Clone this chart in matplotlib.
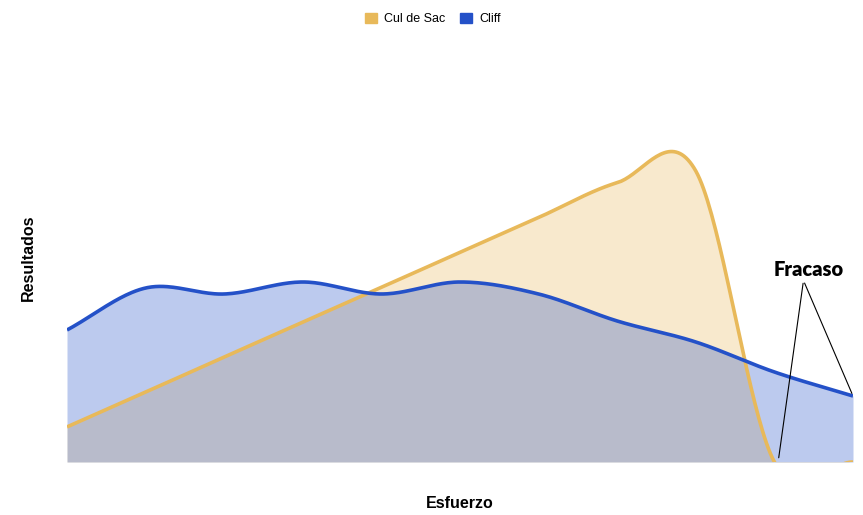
import matplotlib.pyplot as plt
from matplotlib.patches import Patch
import numpy as np

# datos (11 puntos, eje x sin etiquetas)
puntos = list(range(11))
cul_de_sac = [11.7, 23.3, 35.0, 46.6, 58.2, 69.9, 81.5, 93.1, 97, 0, 0]
cliff = [44, 58, 56, 60, 56, 60, 56, 47, 40, 30, 22]
series = ['Cul de Sac', 'Cliff']

c_naranja = '#e8b95a'
c_azul = '#2451c8'


def suave(x, y, n=40):
	# curva tipo catmull-rom entre los puntos (como curveType 'function')
	x = np.asarray(x, float)
	y = np.asarray(y, float)
	m = np.gradient(y, x, edge_order=1)
	m[1:-1] = (y[2:] - y[:-2]) / (x[2:] - x[:-2])
	xs, ys = [], []
	for i in range(len(x) - 1):
		t = np.linspace(0, 1, n, endpoint=False)
		h = x[i + 1] - x[i]
		h00 = 2*t**3 - 3*t**2 + 1
		h10 = t**3 - 2*t**2 + t
		h01 = -2*t**3 + 3*t**2
		h11 = t**3 - t**2
		xs.append(x[i] + t*h)
		ys.append(h00*y[i] + h10*h*m[i] + h01*y[i + 1] + h11*h*m[i + 1])
	xs.append([x[-1]])
	ys.append([y[-1]])
	return np.concatenate(xs), np.concatenate(ys)


plt.rcParams['font.family'] = ['Liberation Sans', 'DejaVu Sans']

fig = plt.figure(figsize=(8.63, 5.15), dpi=100)
ax = fig.add_axes([67/863, 53/515, 786/863, 422/515])

x1, y1 = suave(puntos, cul_de_sac)
x2, y2 = suave(puntos, cliff)

ax.fill_between(x1, y1, 0, color=c_naranja, alpha=0.3, lw=0)
ax.fill_between(x2, y2, 0, color=c_azul, alpha=0.3, lw=0)
ax.plot(x1, y1, color=c_naranja, lw=2.6, solid_capstyle='butt')
ax.plot(x2, y2, color=c_azul, lw=2.6, solid_capstyle='butt')

ax.set_xlim(0, 10)
ax.set_ylim(0, 422/3)
ax.axis('off')

# anotacion
ax.annotate('', xy=(9.05, 0.5), xytext=(9.37, 60.5),
	arrowprops=dict(arrowstyle='-', color='black', lw=0.8))
ax.annotate('', xy=(10, cliff[-1]), xytext=(9.37, 60.5),
	arrowprops=dict(arrowstyle='-', color='black', lw=0.8))
ax.text(9.43, 62, 'Fracaso', ha='center', va='baseline', fontsize=14.5,
	fontweight='heavy', family=['Lato', 'DejaVu Sans'])

fig.text(460/863, 1 - 503/515, 'Esfuerzo', ha='center', va='center',
	fontsize=11.5, fontweight='bold')
fig.text(28/863, 1 - 258/515, 'Resultados', ha='center', va='center',
	fontsize=11.5, fontweight='bold', rotation=90)

handles = [Patch(color=c_naranja), Patch(color=c_azul)]
fig.legend(handles, series, loc='center', bbox_to_anchor=(433/863, 1 - 19/515),
	ncol=2, frameon=False, fontsize=9, handlelength=0.9, handleheight=0.9,
	handletextpad=0.6, columnspacing=1.2)

plt.savefig('out.png')
plt.close()
